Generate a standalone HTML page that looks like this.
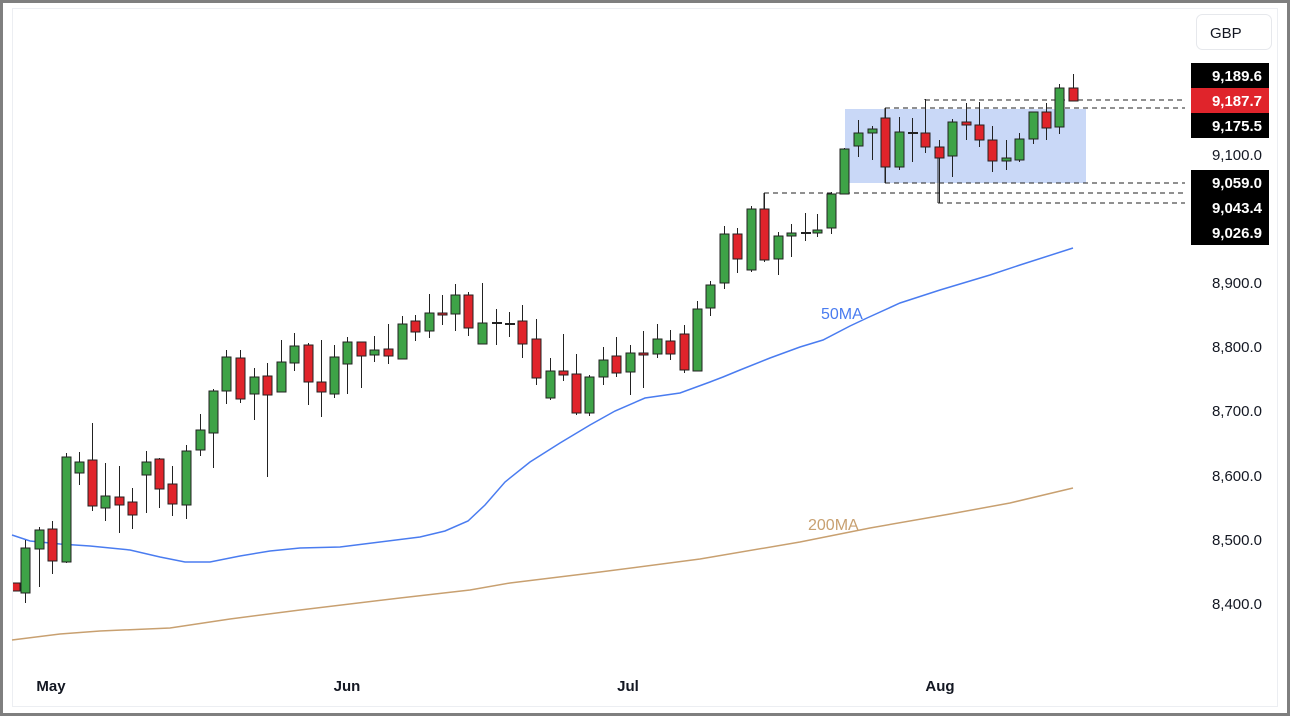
<!DOCTYPE html>
<html><head><meta charset="utf-8">
<style>
html,body{margin:0;padding:0;background:#fff;}
svg{display:block;font-family:"Liberation Sans",sans-serif;}
</style></head>
<body>
<svg id="s" width="1290" height="716" xmlns="http://www.w3.org/2000/svg">
<defs><clipPath id="pc"><rect x="13" y="9" width="1180" height="660"/></clipPath></defs>
<rect x="0" y="0" width="1290" height="716" fill="#7f7f7f"/>
<rect x="3" y="3" width="1284" height="710" fill="#fff"/>
<rect x="12.5" y="8.5" width="1265" height="698" fill="none" stroke="#eceef2"/>
<rect x="845" y="109" width="241" height="74" fill="#c9d8f7"/>
<g stroke="#222" stroke-width="1" stroke-dasharray="5,4" fill="none">
<path d="M925 100H1185"/>
<path d="M885 108H1185"/>
<path d="M885 183H1185"/>
<path d="M764 193H1185"/>
<path d="M938 203H1185"/>
</g>
<g stroke="#222" stroke-width="1" fill="none">
<path d="M925 99V100"/><path d="M885 108V183"/><path d="M764 193V209"/><path d="M938 158V203"/>
</g>
<polyline fill="none" stroke="#4a7cf0" stroke-width="1.5" points="12,535 30,541 60,544 90,546 130,550 160,557 185,562 210,562 240,556 270,551 300,548 340,547 380,542 420,537 445,531 468,521 485,505 505,482 530,462 560,443 590,425 615,411 645,398 680,393 710,382 723,377 740,370 770,358 800,347 823,340 850,326 867,318 900,303 940,290 990,275 1020,265 1073,248"/>
<polyline fill="none" stroke="#c8a070" stroke-width="1.5" points="12,640 60,634 100,631 170,628 230,619 300,610 400,598 470,590 510,583 600,572 700,559 800,542 870,528 950,514 1010,503 1073,488"/>
<text x="821" y="319" fill="#4a7cf0" font-size="16">50MA</text>
<text x="808" y="530" fill="#c8a070" font-size="16">200MA</text>
<g id="c" clip-path="url(#pc)"></g>
<rect x="1196.5" y="14.5" width="75" height="35" rx="6" fill="#fff" stroke="#e6e8ec"/>
<text x="1210" y="38" font-size="15" fill="#131722">GBP</text>
<g font-size="15" fill="#131722" text-anchor="end">
<text x="1262" y="160">9,100.0</text>
<text x="1262" y="288">8,900.0</text>
<text x="1262" y="352">8,800.0</text>
<text x="1262" y="416">8,700.0</text>
<text x="1262" y="481">8,600.0</text>
<text x="1262" y="545">8,500.0</text>
<text x="1262" y="609">8,400.0</text>
</g>
<g font-size="15" text-anchor="end" fill="#fff" font-weight="bold">
<rect x="1191" y="63" width="78" height="25" fill="#000"/><text x="1262" y="81">9,189.6</text>
<rect x="1191" y="88" width="78" height="25" fill="#e0242b"/><text x="1262" y="106">9,187.7</text>
<rect x="1191" y="113" width="78" height="25" fill="#000"/><text x="1262" y="131">9,175.5</text>
<rect x="1191" y="170" width="78" height="25" fill="#000"/><text x="1262" y="188">9,059.0</text>
<rect x="1191" y="195" width="78" height="25" fill="#000"/><text x="1262" y="213">9,043.4</text>
<rect x="1191" y="220" width="78" height="25" fill="#000"/><text x="1262" y="238">9,026.9</text>
</g>
<g font-size="15" fill="#131722" font-weight="bold" text-anchor="middle">
<text x="51" y="691">May</text><text x="347" y="691">Jun</text><text x="628" y="691">Jul</text><text x="940" y="691">Aug</text>
</g>
</svg>
<script>
var d=[[15,583,591,583,591],[25,593,548,540,603],[39,549,530,527,587],[52,529,561,521,574],[66,562,457,453,563],[79,473,462,452,485],[92,460,506,423,511],[105,508,496,463,521],[119,497,505,466,533],[132,502,515,488,529],[146,475,462,451,513],[159,459,489,458,508],[172,484,504,466,516],[186,505,451,445,519],[200,450,430,414,456],[213,433,391,389,468],[226,391,357,350,404],[240,358,399,350,403],[254,394,377,368,420],[267,376,395,363,477],[281,392,362,340,392],[294,363,346,333,371],[308,345,382,343,405],[321,382,392,340,417],[334,394,357,345,398],[347,364,342,337,394],[361,342,356,342,388],[374,355,350,336,362],[388,349,356,324,364],[402,359,324,316,359],[415,321,332,315,341],[429,331,313,294,338],[442,313,315,295,325],[455,314,295,284,331],[468,295,328,292,336],[482,344,323,283,344],[496,322,322,309,345],[509,323,323,312,337],[522,321,344,305,358],[536,339,378,319,385],[550,398,371,358,400],[563,371,375,334,381],[576,374,413,354,415],[589,413,377,375,416],[603,377,360,347,385],[616,356,373,337,377],[630,372,353,345,395],[643,353,355,331,388],[657,354,339,324,358],[670,341,354,330,360],[684,334,370,325,373],[697,371,309,301,371],[710,308,285,281,316],[724,283,234,226,289],[737,234,259,228,273],[751,270,209,206,272],[764,209,260,193,262],[778,259,236,232,275],[791,236,233,224,257],[805,232,232,213,241],[817,233,230,214,237],[831,228,194,192,234],[844,194,149,148,194],[858,146,133,120,157],[872,133,129,126,160],[885,118,167,108,183],[899,167,132,117,170],[912,132,132,118,162],[925,133,147,99,153],[939,147,158,140,203],[952,156,122,119,177],[966,122,125,103,140],[979,125,140,102,147],[992,140,161,126,172],[1006,161,158,140,170],[1019,160,139,133,162],[1033,139,112,112,144],[1046,112,128,103,140],[1059,127,88,84,134],[1073,88,101,74,101]];
var g=document.getElementById('c'),h='';
d.forEach(function(c){var x=c[0],o=c[1],cl=c[2],hi=c[3],lo=c[4];
var col=cl<o?'#3ea347':(cl>o?'#e0242b':'#222');
var t=Math.min(o,cl),b=Math.max(o,cl);
h+='<line x1="'+(x+.5)+'" x2="'+(x+.5)+'" y1="'+hi+'" y2="'+lo+'" stroke="#222" stroke-width="1"/>';
if(b-t<2){h+='<rect x="'+(x-4)+'" y="'+t+'" width="10" height="2" fill="#222"/>';}
else h+='<rect x="'+(x-4)+'" y="'+t+'" width="9" height="'+(b-t)+'" fill="'+col+'" stroke="#222" stroke-width="1"/>';});
g.innerHTML=h;
</script>
</body></html>
